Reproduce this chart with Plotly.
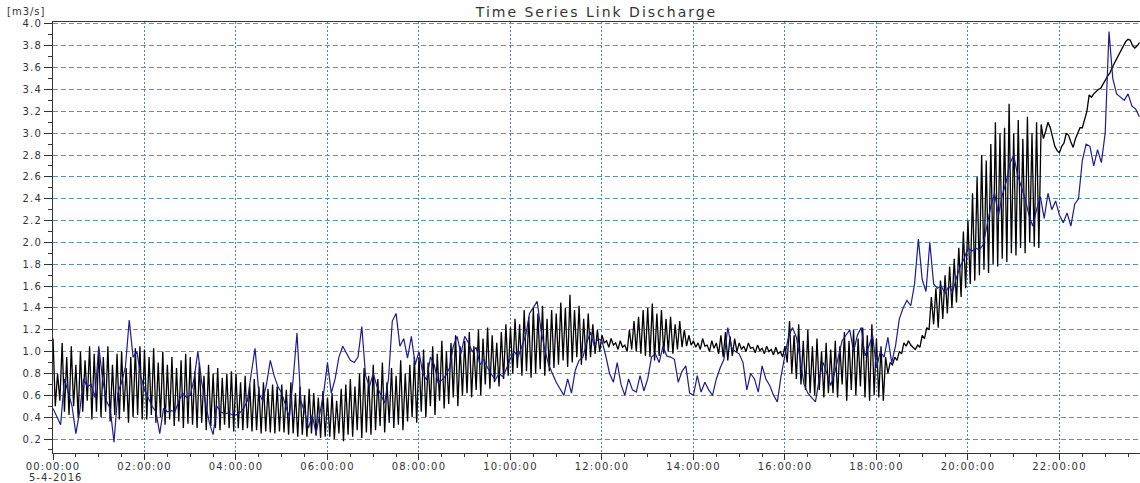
import datetime as dt
import plotly.graph_objects as go

# ---------------- data ----------------
DATE_LABEL = "5-4-2016"
TITLE = "Time Series Link Discharge"
UNIT = "[m3/s]"
x_tick_labels = ["00:00:00", "02:00:00", "04:00:00", "06:00:00", "08:00:00", "10:00:00",
                 "12:00:00", "14:00:00", "16:00:00", "18:00:00", "20:00:00", "22:00:00"]

# black series: oscillating part, one (high, low) pair per 6-minute cycle, 00:00 - 21:36
black_hi = [
    1.12, 0.80, 1.08, 0.95, 1.05, 0.88, 1.00, 0.92, 1.05, 0.98,
    1.02, 0.95, 1.05, 0.88, 0.98, 1.00, 0.85, 0.95, 1.03, 1.05,
    1.02, 0.95, 1.03, 0.90, 1.00, 0.88, 0.95, 0.85, 0.92, 0.98,
    0.95, 0.82, 0.90, 0.78, 0.88, 0.80, 0.85, 0.76, 0.80, 0.82,
    0.80, 0.72, 0.78, 0.70, 0.75, 0.68, 0.72, 0.66, 0.70, 0.68,
    0.70, 0.65, 0.72, 0.62, 0.68, 0.60, 0.66, 0.62, 0.58, 0.64,
    0.58, 0.62, 0.55, 0.66, 0.70, 0.75, 0.68, 0.80, 0.85, 0.78,
    0.88, 0.75, 0.90, 0.72, 0.85, 0.78, 0.92, 0.80, 0.88, 0.95,
    0.95, 1.02, 0.90, 1.05, 0.98, 1.10, 1.00, 1.08, 1.15, 1.05,
    1.10, 1.18, 1.05, 1.20, 1.12, 1.22, 1.15, 1.08, 1.18, 1.25,
    1.22, 1.30, 1.25, 1.38, 1.32, 1.40, 1.35, 1.42, 1.30, 1.38,
    1.35, 1.45, 1.40, 1.52, 1.38, 1.42, 1.30, 1.35, 1.25, 1.20,
    1.15, 1.10, 1.12, 1.08, 1.10, 1.06, 1.20, 1.28, 1.32, 1.38,
    1.40, 1.44, 1.35, 1.38, 1.30, 1.32, 1.25, 1.28, 1.20, 1.15,
    1.10, 1.08, 1.12, 1.06, 1.10, 1.08, 1.15, 1.18, 1.14, 1.12,
    1.08, 1.05, 1.08, 1.04, 1.06, 1.03, 1.05, 1.02, 1.04, 1.00,
    1.05, 1.28, 1.15, 1.25, 1.10, 1.20, 1.05, 1.12, 1.00, 1.08,
    1.02, 1.10, 1.05, 1.18, 1.10, 1.20, 1.12, 1.22, 1.15, 1.25,
    1.12, 1.05, 0.95, 0.90, 0.95, 1.00, 1.08, 1.10, 1.04, 1.06,
    1.15, 1.22, 1.50, 1.58, 1.65, 1.70, 1.78, 1.85, 1.95, 2.10,
    2.20, 2.45, 2.60, 2.80, 2.75, 2.90, 3.10, 3.00, 3.05, 3.27,
    3.00, 3.12, 2.95, 3.15, 3.00, 3.10,
]
black_lo = [
    0.50, 0.55, 0.45, 0.42, 0.50, 0.40, 0.45, 0.55, 0.38, 0.45,
    0.40, 0.45, 0.36, 0.42, 0.38, 0.45, 0.35, 0.40, 0.42, 0.38,
    0.38, 0.42, 0.35, 0.40, 0.33, 0.38, 0.32, 0.36, 0.30, 0.34,
    0.33, 0.30, 0.35, 0.28, 0.32, 0.30, 0.28, 0.33, 0.30, 0.27,
    0.30, 0.28, 0.30, 0.27, 0.28, 0.25, 0.27, 0.26, 0.25, 0.27,
    0.26, 0.24, 0.25, 0.22, 0.24, 0.22, 0.25, 0.23, 0.21, 0.22,
    0.22, 0.20, 0.25, 0.18, 0.24, 0.22, 0.28, 0.21, 0.26, 0.24,
    0.28, 0.32, 0.26, 0.35, 0.30, 0.33, 0.28, 0.36, 0.40, 0.35,
    0.45, 0.40, 0.50, 0.42, 0.55, 0.48, 0.52, 0.58, 0.50, 0.60,
    0.62, 0.58, 0.65, 0.60, 0.70, 0.66, 0.72, 0.68, 0.75, 0.78,
    0.80, 0.85, 0.78, 0.82, 0.76, 0.80, 0.84, 0.78, 0.82, 0.85,
    0.88, 0.92, 0.86, 0.90, 0.95, 0.88, 0.92, 0.95, 0.98, 1.00,
    1.08, 1.04, 1.06, 1.02, 1.04, 1.00, 1.02, 1.00, 0.98, 0.96,
    0.95, 0.92, 0.96, 0.98, 1.00, 0.98, 1.02, 1.04, 1.05, 1.06,
    1.04, 1.02, 1.05, 1.00, 1.03, 0.98, 0.95, 0.92, 0.96, 1.00,
    1.02, 1.00, 1.03, 0.99, 1.01, 0.98, 1.00, 0.97, 0.98, 0.95,
    0.90, 0.80, 0.75, 0.70, 0.65, 0.62, 0.60, 0.65, 0.58, 0.62,
    0.62, 0.58, 0.70, 0.55, 0.65, 0.60, 0.68, 0.58, 0.55, 0.60,
    0.58, 0.55, 0.80, 0.88, 0.92, 0.98, 1.05, 1.06, 1.02, 1.04,
    1.12, 1.20, 1.25, 1.22, 1.30, 1.35, 1.40, 1.45, 1.50, 1.58,
    1.62, 1.65, 1.70, 1.75, 1.72, 1.80, 1.78, 1.85, 1.82, 1.90,
    1.88, 1.95, 1.90, 2.00, 1.96, 1.95,
]
# black series: smooth tail, 3-minute samples from 21:36 to 23:45
black_tail = [
    3.08, 2.95, 3.02, 3.10, 3.05, 2.95, 2.88, 2.84,
    2.82, 2.88, 2.91, 3.00, 2.98, 2.92, 2.87, 2.95, 3.00, 3.05,
    3.05, 3.12, 3.20, 3.35, 3.33, 3.36, 3.38, 3.40, 3.41, 3.45,
    3.48, 3.52, 3.55, 3.60, 3.64, 3.68, 3.72, 3.76, 3.80, 3.84,
    3.86, 3.85, 3.80, 3.78, 3.80, 3.83,
]
# blue series: 5-minute samples from 00:00 to 23:45
blue_vals = [
    0.48, 0.40, 0.33, 0.75, 0.62, 0.50, 0.25, 0.45, 0.75, 0.68, 0.70, 0.58,
    1.05, 0.75, 0.55, 0.48, 0.17, 0.62, 0.72, 0.86, 1.29, 0.95, 1.00, 0.78,
    0.65, 0.58, 0.50, 0.45, 0.25, 0.48, 0.45, 0.46, 0.45, 0.55, 0.62, 0.58,
    0.60, 0.75, 1.00, 0.72, 0.52, 0.35, 0.24, 0.50, 0.45, 0.43, 0.44, 0.42,
    0.42, 0.44, 0.48, 0.55, 0.80, 1.03, 0.62, 0.55, 0.70, 0.92, 0.78, 0.68,
    0.62, 0.52, 0.40, 0.75, 1.17, 0.55, 0.45, 0.30, 0.42, 0.25, 0.45, 0.62,
    0.90, 0.62, 0.75, 0.95, 1.05, 0.98, 0.92, 0.90, 0.95, 1.23, 0.78, 0.68,
    0.80, 0.68, 0.60, 0.53, 0.75, 1.28, 1.35, 1.05, 1.12, 0.94, 1.14, 0.88,
    1.00, 0.80, 0.74, 0.95, 0.88, 0.72, 0.74, 0.78, 0.85, 1.05, 1.14, 0.98,
    1.14, 1.08, 1.00, 1.04, 0.88, 0.93, 0.85, 0.80, 0.74, 0.80, 0.77, 0.85,
    0.94, 1.00, 0.95, 1.05, 1.15, 1.35, 1.40, 1.46, 1.20, 1.02, 0.88, 0.80,
    0.72, 0.66, 0.60, 0.75, 0.62, 0.83, 0.92, 0.95, 1.08, 1.18, 1.05, 1.12,
    1.10, 0.96, 0.80, 0.72, 0.90, 0.70, 0.60, 0.75, 0.65, 0.63, 0.78, 0.64,
    0.75, 0.95, 0.98, 0.90, 1.05, 0.96, 0.95, 0.93, 0.72, 0.82, 0.87, 0.62,
    0.60, 0.78, 0.63, 0.72, 0.65, 0.60, 0.75, 0.85, 0.93, 1.22, 1.04, 1.00,
    0.98, 0.90, 0.65, 0.80, 0.75, 0.63, 0.87, 0.75, 0.69, 0.60, 0.54, 0.78,
    0.95, 1.15, 1.22, 1.13, 0.93, 0.70, 0.62, 0.58, 0.54, 0.75, 0.90, 0.80,
    0.69, 0.80, 0.95, 1.10, 1.15, 1.20, 1.00, 1.15, 1.22, 0.96, 1.05, 1.15,
    0.85, 1.00, 0.95, 1.13, 0.90, 1.05, 1.30, 1.40, 1.47, 1.42, 1.62, 2.03,
    1.66, 1.55, 2.00, 1.62, 1.58, 1.60, 1.53, 1.60, 1.55, 1.68, 1.78, 1.85,
    1.95, 1.92, 1.95, 1.93, 1.98, 2.15, 2.33, 2.45, 2.25, 2.43, 2.55, 2.72,
    2.80, 2.62, 2.50, 2.40, 2.25, 2.15, 2.30, 2.42, 2.22, 2.45, 2.30, 2.38,
    2.25, 2.18, 2.27, 2.15, 2.35, 2.40, 2.75, 2.90, 2.88, 2.70, 2.85, 2.73,
    3.00, 3.93, 3.50, 3.36, 3.33, 3.30, 3.36, 3.25, 3.22, 3.15,
]

# ---------------- build time stamps ----------------
base = dt.datetime(2016, 4, 5)
black_x, black_y = [], []
for k, (hi, lo) in enumerate(zip(black_hi, black_lo)):
    black_x.append(base + dt.timedelta(minutes=6 * k))
    black_y.append(hi)
    black_x.append(base + dt.timedelta(minutes=6 * k + 3))
    black_y.append(lo)
tail_start = 6 * len(black_hi)
for i, v in enumerate(black_tail):
    black_x.append(base + dt.timedelta(minutes=tail_start + 3 * i))
    black_y.append(v)

blue_x = [base + dt.timedelta(minutes=5 * i) for i in range(len(blue_vals))]
tick_vals = [base + dt.timedelta(hours=2 * i) for i in range(len(x_tick_labels))]

# ---------------- figure ----------------
FONT = "DejaVu Sans"
TXT = "#333333"
fig = go.Figure()
fig.add_trace(go.Scatter(x=black_x, y=black_y, mode="lines",
                         line=dict(color="#000000", width=1.3), showlegend=False,
                         name="Link 1"))
fig.add_trace(go.Scatter(x=blue_x, y=blue_vals, mode="lines",
                         line=dict(color="#1c1c90", width=1.2), showlegend=False,
                         name="Link 2"))

fig.update_layout(
    width=1140, height=483,
    margin=dict(l=53, r=0, t=22, b=30),
    paper_bgcolor="white", plot_bgcolor="white",
    title=dict(text=TITLE, x=0.5, xref="paper", y=1 - 12 / 483, yref="container",
               xanchor="center", yanchor="middle",
               font=dict(family=FONT, size=14, color=TXT)),
    font=dict(family=FONT, size=10, color=TXT),
)
fig.update_xaxes(
    type="date",
    range=[base, base + dt.timedelta(hours=23, minutes=45, seconds=40)],
    tickmode="array", tickvals=tick_vals, ticktext=x_tick_labels,
    ticks="outside", ticklen=6, tickcolor=TXT, tickwidth=1,
    ticklabelstandoff=-2,
    tickfont=dict(family=FONT, size=10, color=TXT),
    showgrid=True, gridcolor="#3d8cab", gridwidth=1, griddash="2px,2px",
    minor=dict(dtick=30 * 60 * 1000, tick0=base, ticks="outside", ticklen=3,
               tickcolor=TXT, showgrid=False),
    showline=True, linecolor=TXT, linewidth=1, mirror=True,
    zeroline=False,
)
fig.update_yaxes(
    range=[0.072, 4.018],
    tickmode="linear", tick0=0, dtick=0.2, tickformat=".1f",
    ticks="outside", ticklen=8, tickcolor=TXT, tickwidth=1,
    tickfont=dict(family=FONT, size=10, color=TXT),
    showgrid=True, gridcolor="#5796b0", gridwidth=1, griddash="5px,3px",
    minor=dict(dtick=0.1, tick0=0, ticks="outside", ticklen=4,
               tickcolor=TXT, showgrid=False),
    showline=True, linecolor=TXT, linewidth=1,
    zeroline=False,
)
fig.add_annotation(text=UNIT, xref="paper", yref="paper", x=0, y=1,
                   xshift=-45, yshift=11, xanchor="left", yanchor="middle",
                   showarrow=False, font=dict(family=FONT, size=10, color=TXT))
fig.add_annotation(text=DATE_LABEL, xref="x", yref="paper", x=base, y=0,
                   xshift=2, yshift=-24, xanchor="center", yanchor="middle",
                   borderpad=0,
                   showarrow=False, font=dict(family=FONT, size=10, color=TXT))

# widen the lettering a little, as in the reference rendering
post = """
var gd = document.getElementById('{plot_id}');
function widen(){
  gd.querySelectorAll('.xtick text, .ytick text').forEach(function(t){ t.style.letterSpacing = '1.2px'; });
  gd.querySelectorAll('.annotation-text').forEach(function(t){ t.style.letterSpacing = '1px'; });
  gd.querySelectorAll('.gtitle').forEach(function(t){ t.style.letterSpacing = '2px'; });
}
widen();
gd.on('plotly_afterplot', widen);
"""
fig.write_html("out.html", post_script=post)
